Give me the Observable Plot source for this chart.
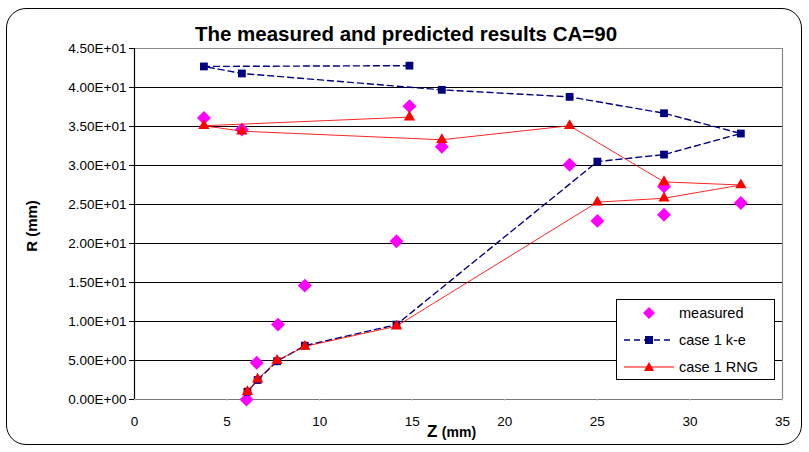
<!DOCTYPE html>
<html><head><meta charset="utf-8">
<script src="https://cdn.jsdelivr.net/npm/d3@7"></script>
<script src="https://cdn.jsdelivr.net/npm/@observablehq/plot@0.6"></script>
<style>
  body{margin:0;background:#fff;font-family:"Liberation Sans",Arial,sans-serif;}
  #wrap{position:relative;width:809px;height:452px;overflow:hidden;}
  #border{position:absolute;left:6px;top:8px;width:796px;height:437px;border:1.5px solid #000;border-radius:20px;box-sizing:border-box;pointer-events:none;}
  #title{position:absolute;left:0;width:812px;top:22px;text-align:center;font-weight:bold;font-size:20.5px;}
  #ylab{position:absolute;left:31px;top:226px;transform:translate(-50%,-50%) rotate(-90deg);font-weight:bold;font-size:15px;white-space:nowrap;}
  #xlab{position:absolute;left:427px;top:423px;font-weight:bold;white-space:nowrap;line-height:18px;}
  #legend{position:absolute;left:616px;top:299px;width:159px;height:81px;border:1px solid #000;background:#fff;box-sizing:border-box;font-size:14.5px;}
  .row{position:absolute;left:6px;height:20px;display:flex;align-items:center;}
  .row span{margin-left:4px;}
</style></head>
<body>
<div id="wrap">
  <div id="chart"></div>
  <div id="title">The measured and predicted results CA=90</div>
  <div id="ylab">R (mm)</div>
  <div id="xlab"><span style="font-size:17px">Z</span> <span style="font-size:14px">(mm)</span></div>
  <div id="legend">
    <div class="row" style="top:3px"><svg width="52" height="20"><path d="M26,4L32,10L26,16L20,10Z" fill="#ff00ff"/></svg><span>measured</span></div>
    <div class="row" style="top:30px"><svg width="52" height="20"><line x1="1" x2="51" y1="10" y2="10" stroke="#000080" stroke-width="1.3" stroke-dasharray="6,4"/><rect x="22" y="6" width="8" height="8" fill="#000080"/></svg><span>case 1 k-e</span></div>
    <div class="row" style="top:57px"><svg width="52" height="20"><line x1="1" x2="51" y1="10" y2="10" stroke="#ff0000" stroke-width="1"/><path d="M26,5L31,14L21,14Z" fill="#ff0000"/></svg><span>case 1 RNG</span></div>
  </div>
  <div id="border"></div>
</div>
<script>
const measuredZ = [3.75, 5.8, 14.85, 16.6, 23.5, 25.0, 28.6, 28.6, 32.75, 14.15, 9.2, 7.75, 6.6, 6.05];
const measuredR = [36.1, 34.6, 37.6, 32.4, 30.1, 22.9, 23.7, 27.3, 25.2, 20.3, 14.6, 9.6, 4.7, 0.0];
const keZ  = [14.85, 3.75, 5.8, 16.6, 23.5, 28.6, 32.75, 28.6, 25.0, 14.15, 9.2, 7.7, 6.65, 6.1];
const keR  = [42.8, 42.7, 41.8, 39.7, 38.8, 36.7, 34.1, 31.4, 30.5, 9.6, 6.9, 4.9, 2.5, 1.0];
const rngZ = [14.85, 3.75, 5.8, 16.6, 23.5, 28.6, 32.75, 28.6, 25.0, 14.15, 9.2, 7.7, 6.65, 6.1];
const rngR = [36.2, 35.1, 34.4, 33.3, 35.1, 27.9, 27.5, 25.8, 25.3, 9.4, 6.8, 5.0, 2.6, 1.0];
const xTicks = [0, 5, 10, 15, 20, 25, 30, 35];
const yTicks = [0, 5, 10, 15, 20, 25, 30, 35, 40, 45];
const gridY = [5, 10, 15, 20, 25, 30, 35, 40];

const measured = measuredZ.map((z, i) => ({z, r: measuredR[i]}));
const ke = keZ.map((z, i) => ({z, r: keR[i]}));
const rng = rngZ.map((z, i) => ({z, r: rngR[i]}));

function sci(d) {
  const [m, e] = d.toExponential(2).split("e");
  const n = +e;
  return m + "E" + (n < 0 ? "-" : "+") + String(Math.abs(n)).padStart(2, "0");
}

const chart = Plot.plot({
  width: 809, height: 452,
  marginLeft: 134, marginRight: 27, marginTop: 48, marginBottom: 53,
  style: {fontFamily: "'Liberation Sans', Arial, sans-serif", fontSize: "13px", background: "transparent", overflow: "visible"},
  x: {domain: [0, 35], ticks: xTicks, label: null},
  y: {domain: [0, 45], ticks: yTicks, label: null},
  marks: [
    Plot.ruleY(gridY, {stroke: "#000", strokeWidth: 1.2, strokeOpacity: 1}),
    Plot.ruleY([45], {stroke: "#888", strokeWidth: 1.2}),
    Plot.ruleX([35], {stroke: "#888", strokeWidth: 1.2}),
    Plot.ruleY([0], {stroke: "#777", strokeWidth: 1.2}),
    Plot.ruleX([0], {stroke: "#000", strokeWidth: 1.2}),
    Plot.axisY({ticks: yTicks, tickFormat: sci, tickSize: 5, tickPadding: 3, stroke: "#000", strokeOpacity: 1, fill: "#000", fontSize: 13.5, label: null}),
    Plot.axisX({ticks: xTicks, tickFormat: d => String(d), tickSize: 2, tickPadding: 15, stroke: "#ccc", fill: "#000", fontSize: 13.5, label: null}),
    Plot.dot(measured, {x: "z", y: "r", symbol: "diamond2", r: 6.3, fill: "#ff00ff", stroke: "none"}),
    Plot.line(ke, {x: "z", y: "r", stroke: "#000080", strokeWidth: 1.4, strokeDasharray: "6,4", curve: "linear"}),
    Plot.dot(ke, {x: "z", y: "r", symbol: "square", r: 4.4, fill: "#000080", stroke: "none"}),
    Plot.line(rng, {x: "z", y: "r", stroke: "#ff0000", strokeWidth: 1, strokeOpacity: 0.85, curve: "linear"}),
    Plot.dot(rng, {x: "z", y: "r", symbol: "triangle", r: 4.2, fill: "#ff0000", stroke: "none"})
  ]
});
document.getElementById("chart").append(chart);
</script>
</body></html>
